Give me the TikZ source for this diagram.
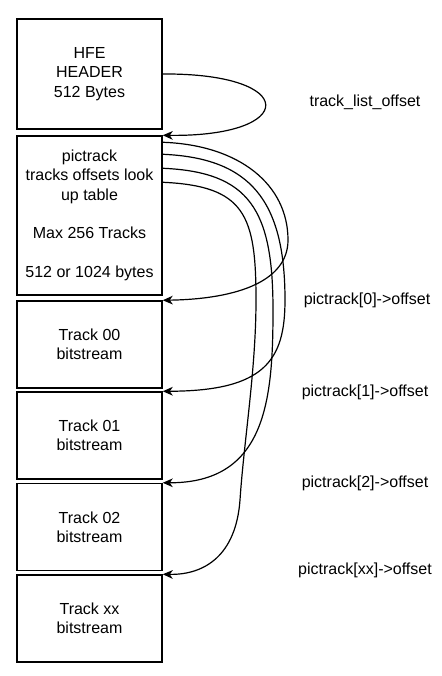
\documentclass[tikz,border=0pt]{standalone}
\usepackage{fontspec}
\setmainfont{Liberation Sans}
\usetikzlibrary{arrows.meta,calc}

\begin{document}
\begin{tikzpicture}[x=0.75pt,y=-0.75pt]
\tikzstyle{every node}+=[inner sep=0pt]
\tikzstyle{block}=[draw=black, line width=1.1pt, minimum width=108.75pt, align=center, font=\fontsize{12}{14.5}\selectfont]
\tikzstyle{offtext}=[font=\fontsize{12}{14.5}\selectfont]
\tikzstyle{link}=[black, line width=0.9pt, -{Stealth[length=7.5pt,width=6.5pt,inset=2.2pt]}]
\useasboundingbox (0,0) rectangle (442,676);

% file layout
\node [block, minimum height=82.5pt] (hfe) at (89.5,74) {HFE\\HEADER\\512 Bytes};
\node [block, minimum height=119.25pt] (pic) at (89.5,215.5) {pictrack\\tracks offsets look\\up table\\[14.5pt]Max 256 Tracks\\[14.5pt]512 or 1024 bytes};
\node [block, minimum height=65.25pt] (t00) at (89.5,344.5) {Track 00\\bitstream};
\node [block, minimum height=65.25pt] (t01) at (89.5,435.5) {Track 01\\bitstream};
\node [block, minimum height=65.25pt] (t02) at (89.5,527) {Track 02\\bitstream};
\node [block, minimum height=65.25pt] (txx) at (89.5,618.5) {Track xx\\bitstream};

% offset names
\node [offtext] (lbllist) at (365,102) {track\_list\_offset};
\node [offtext] (lbl0) at (367,300) {pictrack[0]->offset};
\node [offtext] (lbl1) at (365,392) {pictrack[1]->offset};
\node [offtext] (lbl2) at (365,483) {pictrack[2]->offset};
\node [offtext] (lblxx) at (365,570) {pictrack[xx]->offset};

% pointers
\draw [link] (hfe.east) .. controls (300,73) and (298,137) .. (pic.north east);
\draw [link] ($(pic.north east)+(0,7)$) .. controls (240,145) and (288,185) .. (288,240)
  .. controls (288,280) and (240,299) .. (t00.north east);
\draw [link] ($(pic.north east)+(0,19)$) .. controls (250,158) and (285,200) .. (285,300)
  .. controls (285,360) and (265,391) .. (t01.north east);
\draw [link] ($(pic.north east)+(0,33)$) .. controls (250,172) and (273,210) .. (273,310)
  .. controls (273,400) and (266,483) .. (t02.north east);
\draw [link] ($(pic.north east)+(0,47)$) .. controls (245,186) and (256,215) .. (256,300)
  .. controls (256,370) and (244,440) .. (240,500)
  .. controls (236,555) and (205,575) .. (txx.north east);
\end{tikzpicture}
\end{document}
